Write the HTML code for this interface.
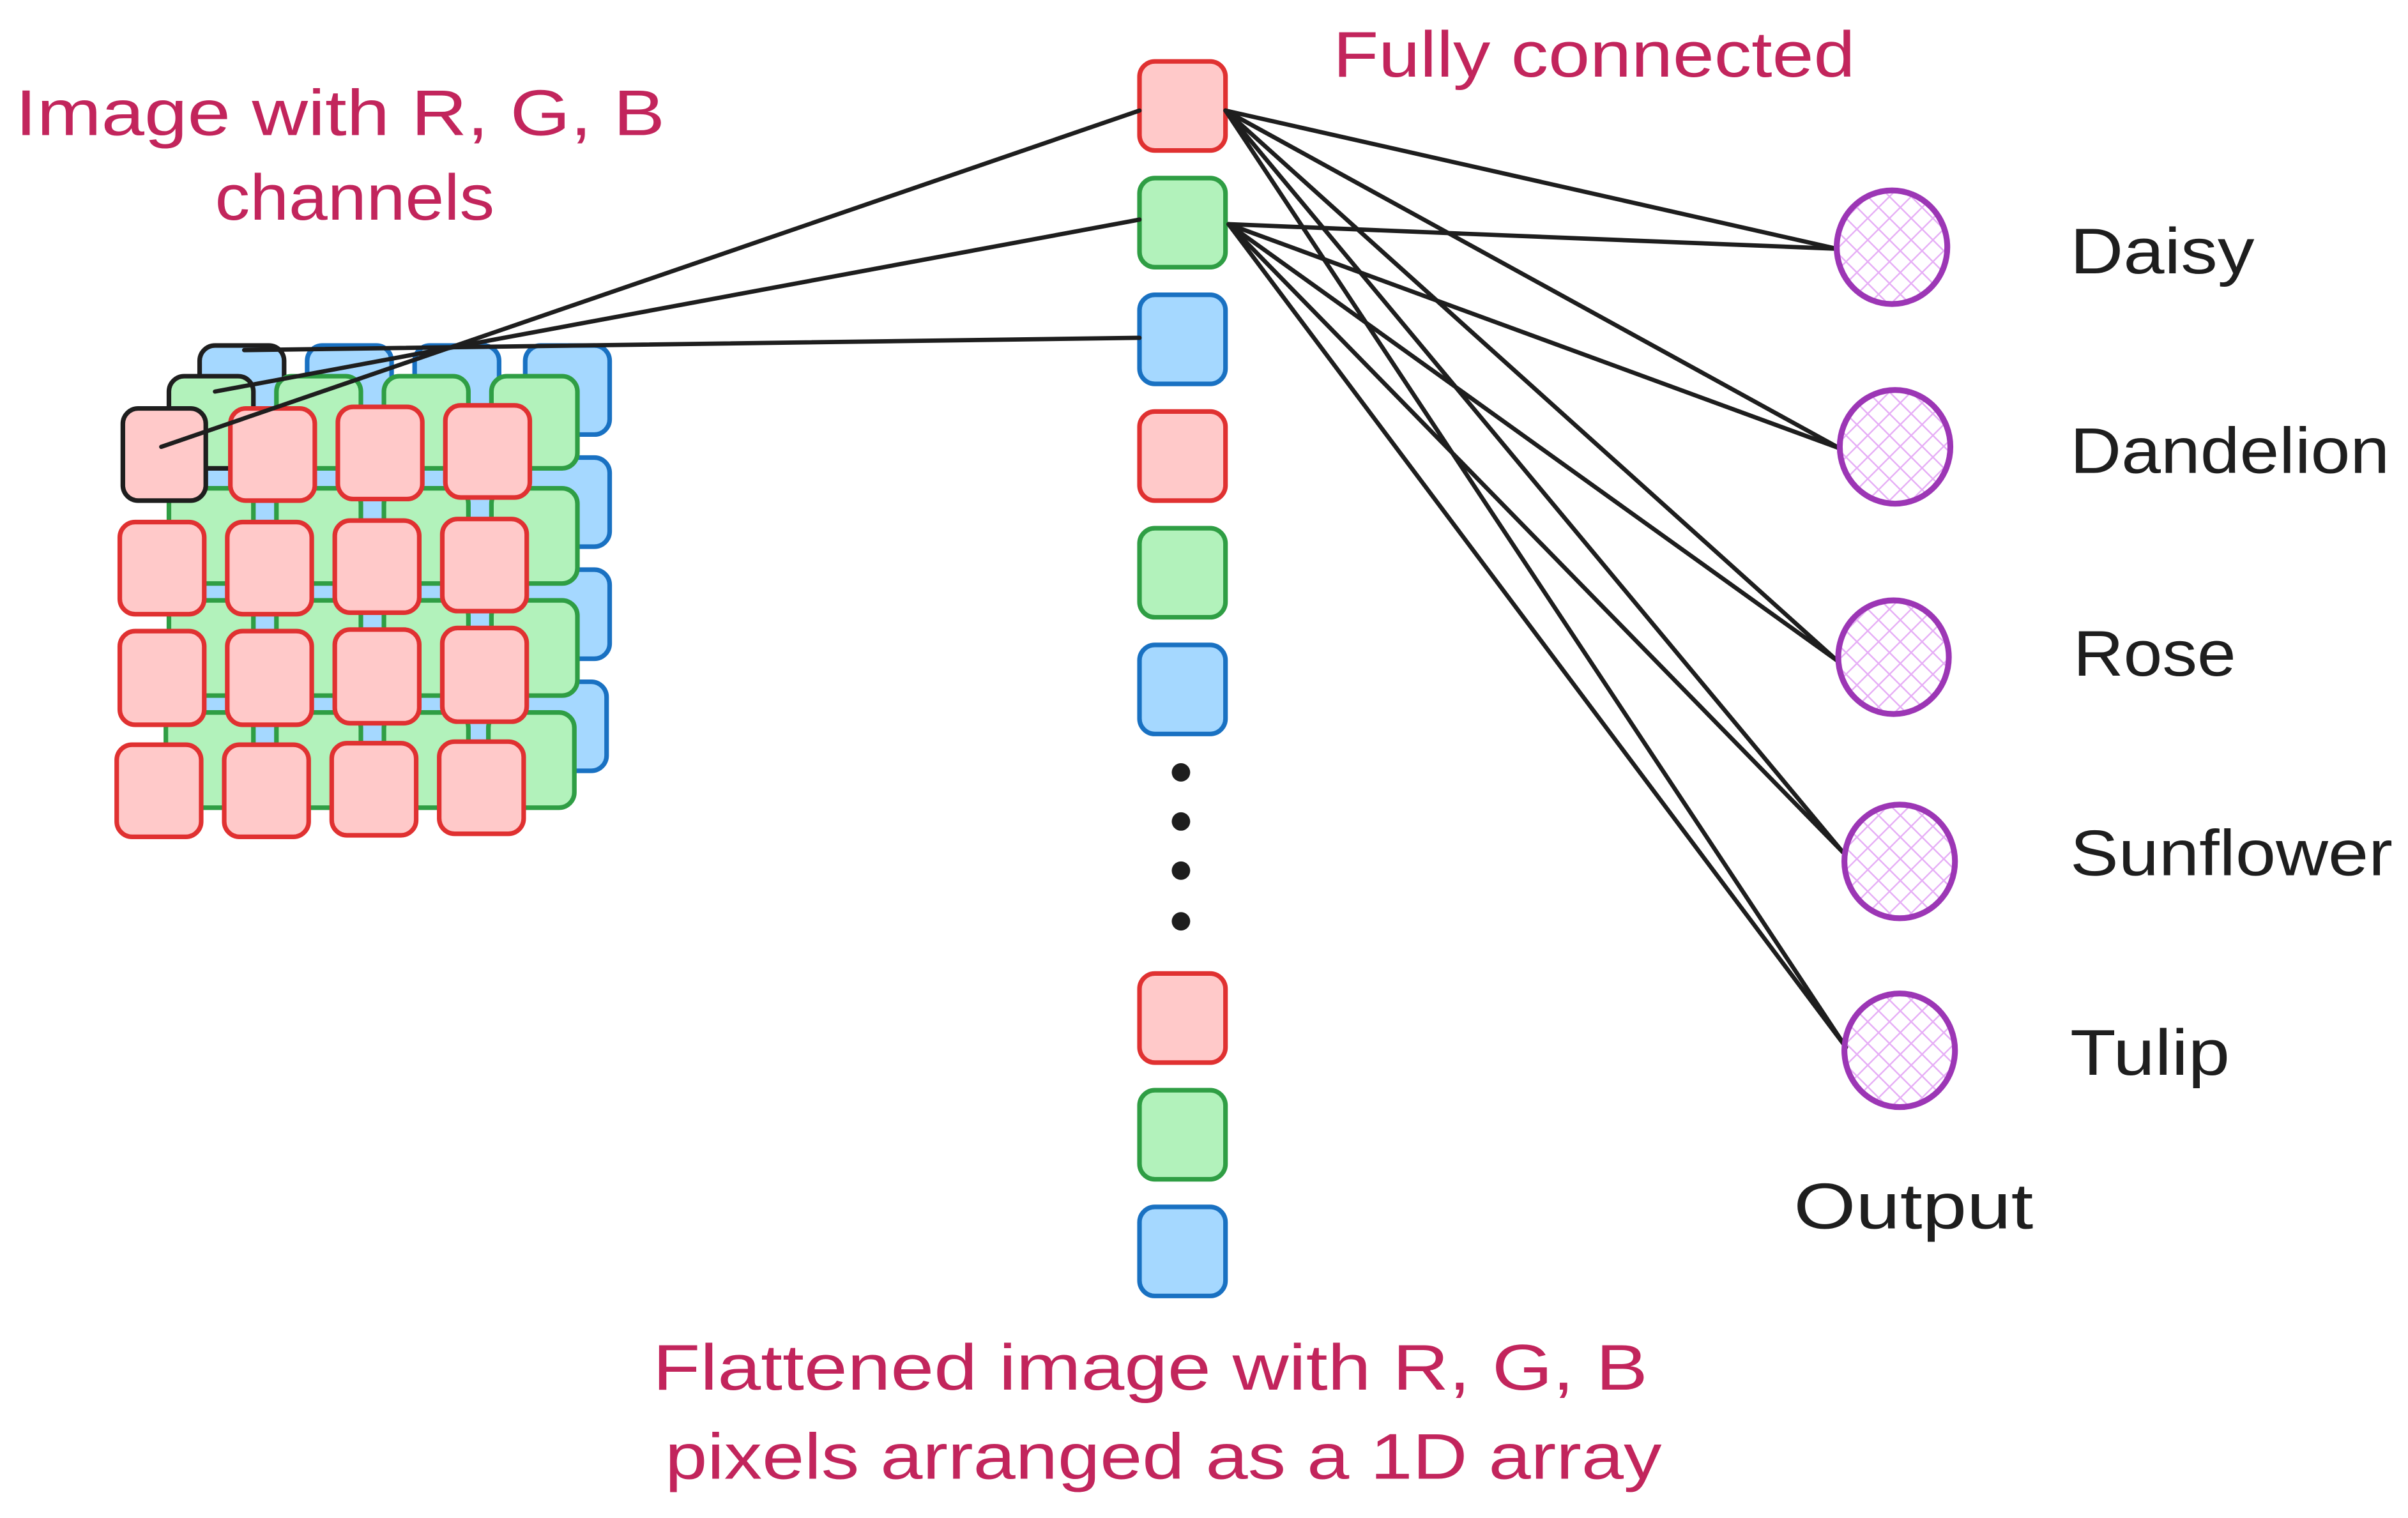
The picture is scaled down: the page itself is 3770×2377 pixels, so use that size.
<!DOCTYPE html>
<html><head><meta charset="utf-8"><style>
html,body{margin:0;padding:0;background:#fff;}
svg{display:block;}
text{font-family:"Liberation Sans","DejaVu Sans",sans-serif;}
</style></head><body>
<svg width="3770" height="2377" viewBox="0 0 1568 988.6" preserveAspectRatio="none" xmlns="http://www.w3.org/2000/svg">
<defs>
<pattern id="h" width="10" height="10" patternUnits="userSpaceOnUse" patternTransform="rotate(45)">
<line x1="0" y1="0" x2="0" y2="10" stroke="#e6aef6" stroke-width="2"/>
<line x1="0" y1="0" x2="10" y2="0" stroke="#e6aef6" stroke-width="2"/>
</pattern>
</defs>
<rect width="1568" height="988.6" fill="#fff"/>
<g stroke-width="3">
<g fill="#a5d8ff" stroke="#1971c2">
<rect x="130" y="225" width="55" height="58" rx="10" stroke="#1e1e1e"/>
<rect x="200" y="225" width="55" height="58" rx="10"/><rect x="270" y="225" width="55" height="58" rx="10"/><rect x="342" y="225" width="55" height="58" rx="10"/>
<rect x="130" y="298" width="55" height="58" rx="10"/><rect x="200" y="298" width="55" height="58" rx="10"/><rect x="270" y="298" width="55" height="58" rx="10"/><rect x="342" y="298" width="55" height="58" rx="10"/>
<rect x="130" y="371" width="55" height="58" rx="10"/><rect x="200" y="371" width="55" height="58" rx="10"/><rect x="270" y="371" width="55" height="58" rx="10"/><rect x="342" y="371" width="55" height="58" rx="10"/>
<rect x="130" y="444" width="55" height="58" rx="10"/><rect x="200" y="444" width="55" height="58" rx="10"/><rect x="270" y="444" width="55" height="58" rx="10"/><rect x="340" y="444" width="55" height="58" rx="10"/>
</g>
<g fill="#b2f2bb" stroke="#2f9e44">
<rect x="110" y="245" width="55" height="60" rx="10" stroke="#1e1e1e"/>
<rect x="180" y="245" width="55" height="60" rx="10"/><rect x="250" y="245" width="55" height="60" rx="10"/><rect x="320" y="245" width="56" height="60" rx="10"/>
<rect x="110" y="318" width="55" height="62" rx="10"/><rect x="180" y="318" width="55" height="62" rx="10"/><rect x="250" y="318" width="55" height="62" rx="10"/><rect x="320" y="318" width="56" height="62" rx="10"/>
<rect x="110" y="391" width="55" height="62" rx="10"/><rect x="180" y="391" width="55" height="62" rx="10"/><rect x="250" y="391" width="55" height="62" rx="10"/><rect x="320" y="391" width="56" height="62" rx="10"/>
<rect x="108" y="464" width="57" height="62" rx="10"/><rect x="180" y="464" width="55" height="62" rx="10"/><rect x="250" y="464" width="55" height="62" rx="10"/><rect x="318" y="464" width="56" height="62" rx="10"/>
</g>
<g fill="#ffc9c9" stroke="#e03131">
<rect x="80" y="266" width="54" height="60" rx="10" stroke="#1e1e1e"/>
<rect x="150" y="266" width="55" height="60" rx="10"/><rect x="220" y="265" width="55" height="60" rx="10"/><rect x="290" y="264" width="55" height="60" rx="10"/>
<rect x="78" y="340" width="55" height="60" rx="10"/><rect x="148" y="340" width="55" height="60" rx="10"/><rect x="218" y="339" width="55" height="60" rx="10"/><rect x="288" y="338" width="55" height="60" rx="10"/>
<rect x="78" y="411" width="55" height="61" rx="10"/><rect x="148" y="411" width="55" height="61" rx="10"/><rect x="218" y="410" width="55" height="61" rx="10"/><rect x="288" y="409" width="55" height="61" rx="10"/>
<rect x="76" y="485" width="55" height="60" rx="10"/><rect x="146" y="485" width="55" height="60" rx="10"/><rect x="216" y="484" width="55" height="60" rx="10"/><rect x="286" y="483" width="55" height="60" rx="10"/>
</g>
<rect x="742" y="40" width="56" height="58" rx="10" fill="#ffc9c9" stroke="#e03131"/>
<rect x="742" y="116" width="56" height="58" rx="10" fill="#b2f2bb" stroke="#2f9e44"/>
<rect x="742" y="192" width="56" height="58" rx="10" fill="#a5d8ff" stroke="#1971c2"/>
<rect x="742" y="268" width="56" height="58" rx="10" fill="#ffc9c9" stroke="#e03131"/>
<rect x="742" y="344" width="56" height="58" rx="10" fill="#b2f2bb" stroke="#2f9e44"/>
<rect x="742" y="420" width="56" height="58" rx="10" fill="#a5d8ff" stroke="#1971c2"/>
<rect x="742" y="634" width="56" height="58" rx="10" fill="#ffc9c9" stroke="#e03131"/>
<rect x="742" y="710" width="56" height="58" rx="10" fill="#b2f2bb" stroke="#2f9e44"/>
<rect x="742" y="786" width="56" height="58" rx="10" fill="#a5d8ff" stroke="#1971c2"/>
</g>
<g fill="#1e1e1e"><circle cx="769" cy="503" r="6"/><circle cx="769" cy="535" r="6"/><circle cx="769" cy="567" r="6"/><circle cx="769" cy="600" r="6"/></g>
<g stroke="#1e1e1e" stroke-width="2.8" fill="none" stroke-linecap="round">
<line x1="105" y1="291" x2="742" y2="72"/>
<line x1="140" y1="255" x2="742" y2="143"/>
<line x1="159" y1="228" x2="742" y2="220"/>
<line x1="798" y1="72" x2="1196" y2="162"/>
<line x1="798" y1="72" x2="1198" y2="292"/>
<line x1="798" y1="72" x2="1196" y2="430"/>
<line x1="798" y1="72" x2="1200" y2="555"/>
<line x1="798" y1="72" x2="1202" y2="682"/>
<line x1="800" y1="146" x2="1196" y2="162"/>
<line x1="800" y1="146" x2="1198" y2="292"/>
<line x1="800" y1="146" x2="1196" y2="430"/>
<line x1="800" y1="146" x2="1200" y2="555"/>
<line x1="800" y1="146" x2="1202" y2="682"/>
</g>
<g fill="url(#h)" stroke="#9c36b5" stroke-width="3.8">
<ellipse cx="1232" cy="161" rx="36" ry="37"/>
<ellipse cx="1234" cy="291" rx="36" ry="37"/>
<ellipse cx="1233" cy="428" rx="36" ry="37"/>
<ellipse cx="1237" cy="561" rx="36" ry="37"/>
<ellipse cx="1237" cy="684" rx="36" ry="37"/>
</g>
<g fill="#1e1e1e" font-size="42" lengthAdjust="spacingAndGlyphs">
<text x="1348" y="178" textLength="120" lengthAdjust="spacingAndGlyphs">Daisy</text>
<text x="1348" y="308" textLength="208" lengthAdjust="spacingAndGlyphs">Dandelion</text>
<text x="1350" y="440" textLength="106" lengthAdjust="spacingAndGlyphs">Rose</text>
<text x="1348" y="570" textLength="210" lengthAdjust="spacingAndGlyphs">Sunflower</text>
<text x="1348" y="700" textLength="104" lengthAdjust="spacingAndGlyphs">Tulip</text>
<text x="1168" y="800" textLength="156" lengthAdjust="spacingAndGlyphs">Output</text>
</g>
<g fill="#c2255c" font-size="42">
<text x="868" y="50" textLength="340" lengthAdjust="spacingAndGlyphs">Fully connected</text>
<text x="10" y="88" textLength="423" lengthAdjust="spacingAndGlyphs">Image with R, G, B</text>
<text x="140" y="143" textLength="182" lengthAdjust="spacingAndGlyphs">channels</text>
<text x="425" y="905" textLength="648" lengthAdjust="spacingAndGlyphs">Flattened image with R, G, B</text>
<text x="433" y="963" textLength="649" lengthAdjust="spacingAndGlyphs">pixels arranged as a 1D array</text>
</g>
</svg>
</body></html>
